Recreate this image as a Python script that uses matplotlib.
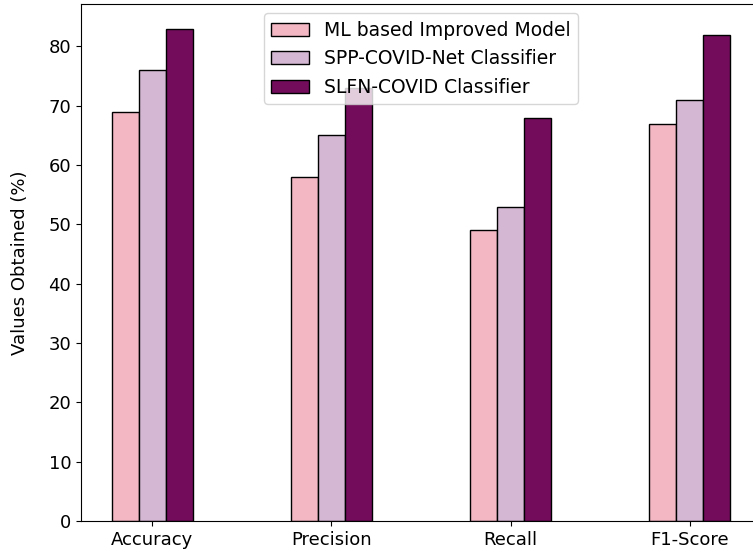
import numpy as np
import matplotlib.pyplot as plt

metrics = ['Accuracy', 'Precision', 'Recall', 'F1-Score']
ml_improved = [69, 58, 49, 67]
spp_covid = [76, 65, 53, 71]
slfn_covid = [83, 73, 68, 82]

labels = ['ML based Improved Model', 'SPP-COVID-Net Classifier', 'SLFN-COVID Classifier']
colors = ['#F3B7C4', '#D3B7D3', '#730D5B']

fig = plt.figure(figsize=(7.53, 5.57), dpi=100)
ax = fig.add_axes([81 / 753, 36 / 557, 680 / 753, 517 / 557])

x = np.arange(len(metrics))
w = 0.15
ax.bar(x - w, ml_improved, w, color=colors[0], edgecolor='black', label=labels[0])
ax.bar(x, spp_covid, w, color=colors[1], edgecolor='black', label=labels[1])
ax.bar(x + w, slfn_covid, w, color=colors[2], edgecolor='black', label=labels[2])

ax.set_xticks(x)
ax.set_xticklabels(metrics, fontsize=13)
ax.tick_params(axis='y', labelsize=13)
ax.set_ylabel('Values Obtained (%)', fontsize=13, labelpad=14)
ax.legend(loc='upper center', fontsize=13.5)

fig.savefig('out.png', dpi=100)
